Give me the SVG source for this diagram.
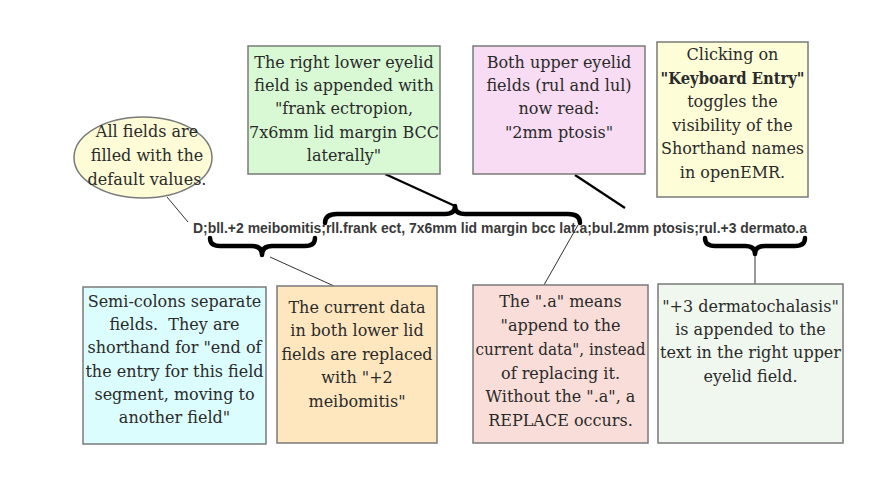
<svg xmlns="http://www.w3.org/2000/svg" width="883" height="486" viewBox="0 0 883 486">
<style>
  .box { stroke: #7a7a7a; stroke-width: 1.5; }
  .t { font-family: "DejaVu Serif", "Liberation Serif", serif; font-size: 16px; fill: #2a2a2a; text-anchor: middle; }
  .code { font-family: "Liberation Sans", Arial, sans-serif; font-weight: bold; font-size: 14px; fill: #3a3a3a; }
  .brace { fill: none; stroke: #000; stroke-width: 4.5; stroke-linejoin: round; stroke-linecap: round; }
  .thin { stroke: #333; stroke-width: 1; fill: none; }
  .thick { stroke: #000; stroke-width: 2.2; fill: none; }
</style>
<rect width="883" height="486" fill="#ffffff"/>

<g id="connectors">
  <line class="thin" x1="167" y1="197" x2="188" y2="222"/>
  <line class="thick" x1="385" y1="174" x2="455" y2="206"/>
  <line class="thick" x1="575" y1="175" x2="625" y2="208"/>
  <line class="thin" x1="270" y1="257" x2="334" y2="286"/>
  <line class="thin" x1="578" y1="225" x2="544" y2="285"/>
  <line class="thin" x1="755" y1="254" x2="755" y2="284" stroke="#555" stroke-width="1.5"/>
  <path class="brace" d="M210,238 Q210,246 220,246 L252,246 Q262,246 262,255 Q262,246 272,246 L305,246 Q315,246 315,238"/>
  <path class="brace" d="M325,223 Q325,214 337,214 L445,214 Q455,214 455,206 Q455,214 465,214 L568,214 Q580,214 580,223"/>
  <path class="brace" d="M705,238 Q705,246 715,246 L745,246 Q755,246 755,254 Q755,246 765,246 L795,246 Q805,246 805,238"/>
</g>

<g id="code-line">
  <text class="code" x="193" y="233" textLength="614" lengthAdjust="spacingAndGlyphs">D;bll.+2 meibomitis;rll.frank ect, 7x6mm lid margin bcc lat.a;bul.2mm ptosis;rul.+3 dermato.a</text>
</g>

<g id="defaults">
  <ellipse class="box" cx="143" cy="157.5" rx="69" ry="40.5" fill="#fdfcd6"/>
  <text class="t" x="147" y="137">All fields are</text>
  <text class="t" x="147" y="161">filled with the</text>
  <text class="t" x="147" y="185">default values.</text>
</g>

<g id="rll-append">
  <rect class="box" x="248" y="46" width="192" height="128" fill="#d8f9d4"/>
  <text class="t" x="344" y="68">The right lower eyelid</text>
  <text class="t" x="344" y="91">field is appended with</text>
  <text class="t" x="344" y="114">"frank ectropion,</text>
  <text class="t" x="344" y="138">7x6mm lid margin BCC</text>
  <text class="t" x="344" y="161">laterally"</text>
</g>

<g id="upper-lids">
  <rect class="box" x="473" y="46" width="172" height="128" fill="#f7dcf3"/>
  <text class="t" x="559" y="68">Both upper eyelid</text>
  <text class="t" x="559" y="91">fields (rul and lul)</text>
  <text class="t" x="559" y="114">now read:</text>
  <text class="t" x="559" y="138">"2mm ptosis"</text>
</g>

<g id="keyboard-entry">
  <rect class="box" x="657" y="42" width="151" height="155" fill="#fdfdd8"/>
  <text class="t" x="732.5" y="60">Clicking on</text>
  <text class="t" x="732.5" y="84" font-weight="bold" textLength="144" lengthAdjust="spacingAndGlyphs">"Keyboard Entry"</text>
  <text class="t" x="732.5" y="107">toggles the</text>
  <text class="t" x="732.5" y="131">visibility of the</text>
  <text class="t" x="732.5" y="154">Shorthand names</text>
  <text class="t" x="732.5" y="178">in openEMR.</text>
</g>

<g id="semicolons">
  <rect class="box" x="83" y="287" width="183" height="157" fill="#dcfdfe"/>
  <text class="t" x="174.5" y="307">Semi-colons separate</text>
  <text class="t" x="174.5" y="330" xml:space="preserve">fields.  They are</text>
  <text class="t" x="174.5" y="353">shorthand for "end of</text>
  <text class="t" x="174.5" y="377">the entry for this field</text>
  <text class="t" x="174.5" y="400">segment, moving to</text>
  <text class="t" x="174.5" y="423">another field"</text>
</g>

<g id="lower-lids">
  <rect class="box" x="277" y="286" width="160" height="157" fill="#fee7be"/>
  <text class="t" x="357" y="313">The current data</text>
  <text class="t" x="357" y="336">in both lower lid</text>
  <text class="t" x="357" y="360">fields are replaced</text>
  <text class="t" x="357" y="383">with "+2</text>
  <text class="t" x="357" y="407">meibomitis"</text>
</g>

<g id="append-meaning">
  <rect class="box" x="473" y="285" width="175" height="158" fill="#f8ddd8"/>
  <text class="t" x="560.5" y="307">The ".a" means</text>
  <text class="t" x="560.5" y="331">"append to the</text>
  <text class="t" x="560.5" y="355" textLength="170" lengthAdjust="spacingAndGlyphs">current data", instead</text>
  <text class="t" x="560.5" y="379">of replacing it.</text>
  <text class="t" x="560.5" y="402">Without the ".a", a</text>
  <text class="t" x="560.5" y="426">REPLACE occurs.</text>
</g>

<g id="rul-append">
  <rect class="box" x="658" y="284" width="185" height="159" fill="#eff7ee"/>
  <text class="t" x="750.5" y="312">"+3 dermatochalasis"</text>
  <text class="t" x="750.5" y="335">is appended to the</text>
  <text class="t" x="750.5" y="358">text in the right upper</text>
  <text class="t" x="750.5" y="382">eyelid field.</text>
</g>
</svg>
